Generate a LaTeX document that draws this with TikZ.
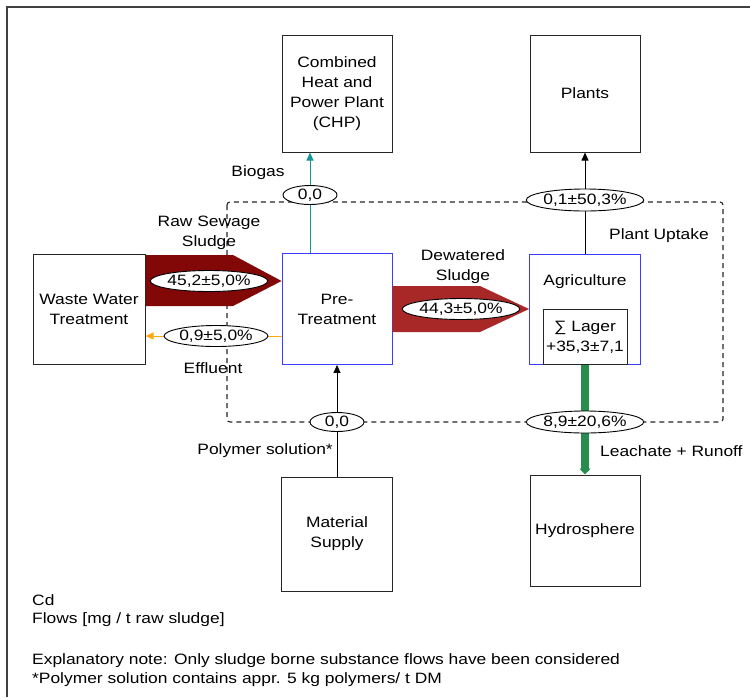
\documentclass[tikz,border=0pt]{standalone}
\usepackage{fontspec}
\setmainfont[FakeStretch=1.16]{Liberation Sans}
\usetikzlibrary{arrows.meta,shapes.geometric}
\definecolor{rawred}{RGB}{130,8,8}
\definecolor{dewred}{RGB}{168,40,40}
\definecolor{biogascol}{RGB}{20,150,150}
\definecolor{efflcol}{RGB}{255,170,20}
\definecolor{leachcol}{RGB}{40,140,80}
\definecolor{procblue}{RGB}{60,60,255}
\begin{document}
\begin{tikzpicture}[x=1pt,y=-1pt,
 every node/.style={font=\fontsize{15}{20}\selectfont, inner sep=0pt},
 box/.style={draw=black!85, line width=1pt, align=center},
 proc/.style={draw=procblue, line width=0.9pt, align=center},
 flowval/.style={ellipse, draw, fill=white, line width=0.9pt, minimum height=21pt},
 lbl/.style={align=center},
 bound/.style={dash pattern=on 5pt off 4pt, line width=1.1pt, black!85, rounded corners=3pt},
 tip/.style={-{Triangle[length=8pt,width=7pt]}}]
\useasboundingbox (0,0) rectangle (750,697);
\draw[black!75, line width=1.5pt] (7,697) -- (7,7) -- (750,7);

% system boundary
\draw[bound] (227,202) rectangle (723,422);

% boxes
\node[box, minimum width=110pt, minimum height=117pt] (chp) at (337,93.5) {Combined\\Heat and\\Power Plant\\(CHP)};
\node[box, minimum width=110pt, minimum height=117pt] (plants) at (585,93.5) {Plants};
\node[box, minimum width=112pt, minimum height=110pt] (wwt) at (89,309) {Waste Water\\Treatment};
\node[proc, minimum width=110pt, minimum height=111pt] (pre) at (337,309) {Pre-\\Treatment};
\node[proc, minimum width=111pt, minimum height=110pt] (agri) at (585,309) {};
\node[lbl] (agrilbl) at (585,282) {Agriculture};
\node[box, minimum width=84pt, minimum height=55pt] (lager) at (585,337) {∑ Lager\\+35,3±7,1};
\node[box, minimum width=111pt, minimum height=114pt] (ms) at (337,534) {Material\\Supply};
\node[box, minimum width=110pt, minimum height=111pt] (hydro) at (585,530.5) {Hydrosphere};

% flows
\fill[rawred] ([yshift=54pt]wwt.east) -- (233,255) -- ([yshift=28pt]pre.west) -- (233,306) -- ([yshift=3pt]wwt.east) -- cycle;
\fill[dewred] ([yshift=23pt]pre.east) -- (480,286) -- (agri.west) -- (480,332) -- ([yshift=-23pt]pre.east) -- cycle;
\draw[efflcol, line width=1pt, tip] ([yshift=-27pt]pre.west) -- ([yshift=-27pt]wwt.east);
\draw[biogascol, line width=1pt, tip] ([xshift=-27pt]pre.north) -- ([xshift=-27pt]chp.south);
\draw[black, line width=0.8pt, tip] (agri.north) -- (plants.south);
\draw[black, line width=0.8pt, tip] (ms.north) -- (pre.south);
\draw[leachcol, line width=8pt, -{Triangle[length=6pt,width=11pt]}] (lager.south) -- (hydro.north);

% flow values
\node[flowval, minimum width=105pt] (v1) at (209,281) {45,2±5,0\%};
\node[flowval, minimum width=103pt] (v2) at (216,336) {0,9±5,0\%};
\node[flowval, minimum width=110pt] (v3) at (461,309) {44,3±5,0\%};
\node[flowval, minimum width=54pt, minimum height=19pt] (v4) at (310,195) {0,0};
\node[flowval, minimum width=117pt, minimum height=22pt] (v5) at (585,200) {0,1±50,3\%};
\node[flowval, minimum width=54pt, minimum height=19pt] (v6) at (337,422) {0,0};
\node[flowval, minimum width=113pt, minimum height=22pt] (v7) at (585,422) {8,9±20,6\%};

% labels
\node[lbl] (lbio) at (258,173) {Biogas};
\node[lbl] (lraw) at (209,233) {Raw Sewage\\Sludge};
\node[lbl] (leff) at (213,368) {Effluent};
\node[lbl] (ldew) at (463,267) {Dewatered\\Sludge};
\node[lbl] (lupt) at (659,236) {Plant Uptake};
\node[lbl, anchor=east] (lpol) at (333,451) {Polymer solution*};
\node[lbl, anchor=west] (llea) at (600,451) {Leachate + Runoff};

% footer
\node[anchor=west] (f1) at (32,600) {Cd};
\node[anchor=west] (f2) at (32,620) {Flows [mg / t raw sludge]};
\node[anchor=west] (f3) at (32,661) {Explanatory note: Only sludge borne substance flows have been considered};
\node[anchor=west] (f4) at (32,680) {*Polymer solution contains appr. 5 kg polymers/ t DM};
\end{tikzpicture}
\end{document}
